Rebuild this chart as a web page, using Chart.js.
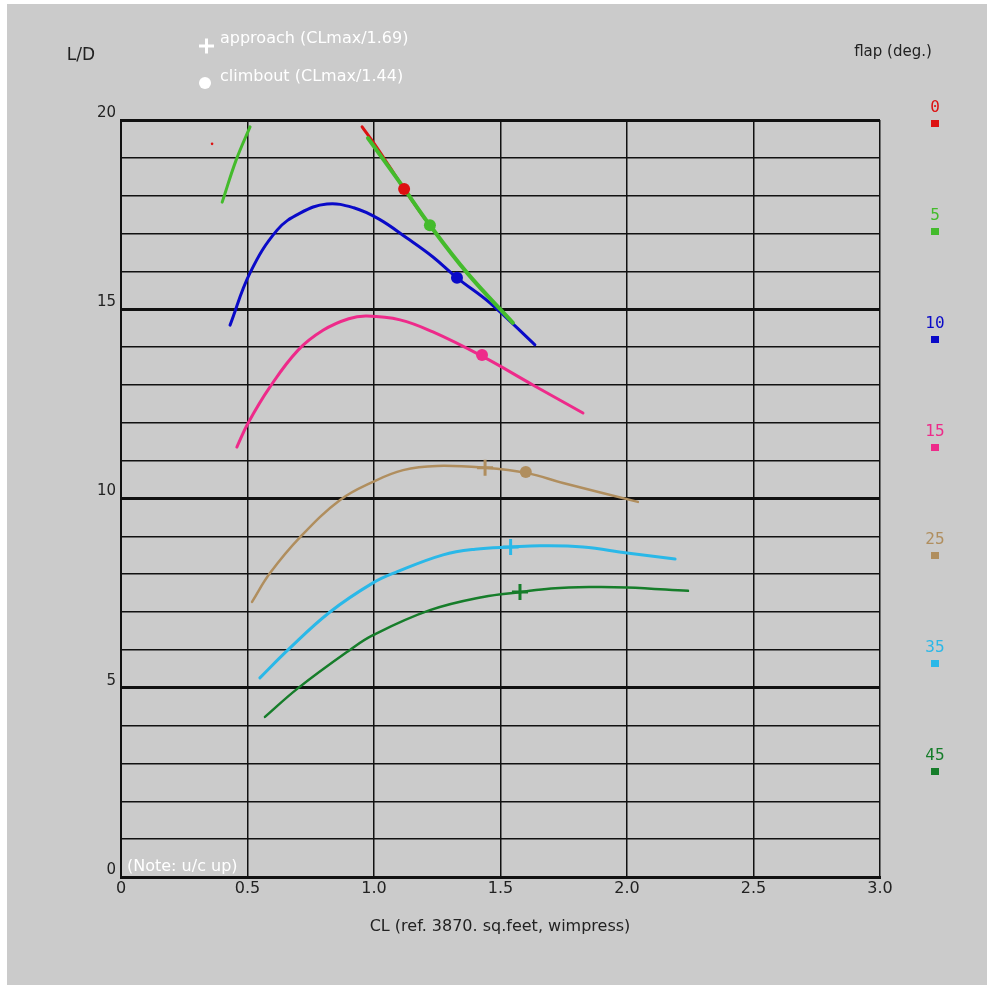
<!DOCTYPE html>
<html>
<head>
<meta charset="utf-8">
<script src="https://cdn.jsdelivr.net/npm/chart.js@4/dist/chart.umd.min.js"></script>
<style>
  html, body { margin: 0; padding: 0; background: #ffffff; }
  #wrap { position: absolute; left: 0; top: 0; width: 987px; height: 985px; }
</style>
</head>
<body>
<div id="wrap"><canvas id="chart" width="987" height="985"></canvas></div>
<script>
// Curve data (CL vs L/D)
const flap0CL = [0.953, 1.0, 1.06, 1.119, 1.2];
const flap0LD = [19.82, 19.38, 18.78, 18.18, 17.4];
const flap0DotCL = [0.36];
const flap0DotLD = [19.37];

const flap5aCL = [0.40, 0.455, 0.51];
const flap5aLD = [17.83, 18.94, 19.82];
const flap5bCL = [0.976, 1.1, 1.221, 1.368, 1.549];
const flap5bLD = [19.52, 18.37, 17.22, 15.96, 14.64];

const flap10CL = [0.431, 0.51, 0.617, 0.708, 0.814, 0.92, 1.02, 1.13, 1.233, 1.328, 1.458, 1.636];
const flap10LD = [14.58, 15.96, 17.09, 17.54, 17.78, 17.68, 17.38, 16.88, 16.38, 15.83, 15.17, 14.06];

const flap15CL = [0.458, 0.502, 0.589, 0.70, 0.80, 0.90, 0.972, 1.103, 1.233, 1.427, 1.628, 1.826];
const flap15LD = [11.36, 11.99, 12.95, 13.92, 14.45, 14.75, 14.82, 14.72, 14.4, 13.76, 13.0, 12.26];

const flap25CL = [0.518, 0.589, 0.708, 0.866, 0.996, 1.115, 1.249, 1.439, 1.605, 1.747, 2.043];
const flap25LD = [7.27, 8.03, 8.98, 9.96, 10.44, 10.75, 10.86, 10.81, 10.67, 10.41, 9.91];

const flap35CL = [0.549, 0.66, 0.826, 0.996, 1.09, 1.273, 1.40, 1.545, 1.656, 1.826, 2.0, 2.19];
const flap35LD = [5.26, 6.0, 7.0, 7.77, 8.06, 8.51, 8.66, 8.72, 8.75, 8.72, 8.56, 8.40];

const flap45CL = [0.569, 0.70, 0.905, 0.996, 1.221, 1.431, 1.581, 1.70, 1.85, 2.0, 2.241];
const flap45LD = [4.23, 4.99, 6.0, 6.39, 7.05, 7.40, 7.53, 7.62, 7.66, 7.65, 7.56];

// approach (+) and climbout (o) points
const approachFlaps = ['25', '35', '45'];
const approachCL = [1.439, 1.54, 1.577];
const approachLD = [10.81, 8.72, 7.53];
const climbFlaps = ['0', '5', '10', '15', '25'];
const climbCL = [1.119, 1.221, 1.328, 1.427, 1.60];
const climbLD = [18.18, 17.22, 15.83, 13.79, 10.70];

const flapLabels = ['0', '5', '10', '15', '25', '35', '45'];
const flapColors = {
    '0': '#dd1111', '5': '#44bb2c', '10': '#0a0ac8', '15': '#ee2a8a',
    '25': '#b08e5e', '35': '#2ab8e8', '45': '#167d2a'
};

const yTicks = [0, 5, 10, 15, 20];

function pts(xs, ys) {
    return xs.map((x, i) => ({ x: x, y: ys[i] }));
}

function curve(xs, ys, flap, width, order) {
    return {
        data: pts(xs, ys),
        showLine: true,
        borderColor: flapColors[flap],
        borderWidth: width,
        pointRadius: 0,
        tension: 0.4,
        borderCapStyle: 'round',
        fill: false,
        order: order
    };
}

const datasets = [];
// approach crosses
approachFlaps.forEach((f, i) => {
    datasets.push({
        data: [{ x: approachCL[i], y: approachLD[i] }],
        pointStyle: 'cross', pointRadius: 8, pointBorderWidth: 3,
        borderColor: flapColors[f], backgroundColor: flapColors[f], order: 0
    });
});
// climbout dots
climbFlaps.forEach((f, i) => {
    datasets.push({
        data: [{ x: climbCL[i], y: climbLD[i] }],
        pointStyle: 'circle', pointRadius: 6, pointBorderWidth: 0,
        borderColor: flapColors[f], backgroundColor: flapColors[f], order: 0
    });
});
datasets.push(curve(flap5bCL, flap5bLD, '5', 4, 1));
datasets.push(curve(flap5aCL, flap5aLD, '5', 3, 1));
datasets.push(curve(flap0CL, flap0LD, '0', 3, 2));
datasets.push({
    data: pts(flap0DotCL, flap0DotLD),
    pointRadius: 1.3, pointBorderWidth: 0,
    backgroundColor: flapColors['0'], borderColor: flapColors['0'], order: 2
});
datasets.push(curve(flap10CL, flap10LD, '10', 3, 3));
datasets.push(curve(flap15CL, flap15LD, '15', 3, 3));
datasets.push(curve(flap25CL, flap25LD, '25', 2.5, 3));
datasets.push(curve(flap35CL, flap35LD, '35', 3, 3));
datasets.push(curve(flap45CL, flap45LD, '45', 2.5, 3));

const textFont = '"DejaVu Sans", "Lucida Grande", sans-serif';

// Background, titles, legends drawn around the plot
const decorations = {
    id: 'decorations',
    beforeDraw(chart) {
        const ctx = chart.ctx;
        ctx.save();
        ctx.fillStyle = '#ffffff';
        ctx.fillRect(0, 0, chart.width, chart.height);
        ctx.fillStyle = '#cbcbcb';
        ctx.fillRect(7, 4, chart.width - 7, chart.height - 4);
        ctx.restore();
    },
    afterDraw(chart) {
        const ctx = chart.ctx;
        const area = chart.chartArea;
        ctx.save();
        ctx.textBaseline = 'middle';

        ctx.fillStyle = '#222222';
        ctx.textAlign = 'center';
        ctx.font = '17px ' + textFont;
        ctx.fillText('L/D', 81, 56);
        ctx.font = '15px ' + textFont;
        ctx.fillText('flap (deg.)', 893, 52);

        ctx.font = '16px ' + textFont;
        ctx.fillText('CL (ref. 3870. sq.feet, wimpress)', 500, 927);

        // approach / climbout legend
        ctx.fillStyle = '#ffffff';
        ctx.strokeStyle = '#ffffff';
        ctx.lineWidth = 3;
        ctx.beginPath();
        ctx.moveTo(199, 46); ctx.lineTo(214, 46);
        ctx.moveTo(206.5, 38.5); ctx.lineTo(206.5, 53.5);
        ctx.stroke();
        ctx.beginPath();
        ctx.arc(205, 83, 6, 0, Math.PI * 2);
        ctx.fill();
        ctx.font = '16px ' + textFont;
        ctx.textAlign = 'left';
        ctx.fillText('approach (CLmax/1.69)', 220, 39);
        ctx.fillText('climbout (CLmax/1.44)', 220, 77);

        ctx.font = '16px ' + textFont;
        ctx.fillText('(Note: u/c up)', area.left + 6, area.bottom - 10);

        // flap colour key
        ctx.textAlign = 'center';
        ctx.font = '16px "DejaVu Sans Mono", monospace';
        flapLabels.forEach((f, i) => {
            const y = 108 + i * 108;
            ctx.fillStyle = flapColors[f];
            ctx.fillText(f, 935, y);
            ctx.fillRect(931, y + 12, 8, 7);
        });
        ctx.restore();
    }
};

new Chart(document.getElementById('chart'), {
    type: 'scatter',
    data: { datasets: datasets },
    options: {
        responsive: false,
        animation: false,
        layout: { padding: { left: 0, top: 120, right: 107, bottom: 78 } },
        plugins: { legend: { display: false }, tooltip: { enabled: false } },
        scales: {
            x: {
                type: 'linear', min: 0, max: 3,
                afterFit(scale) { scale.height = 30; },
                border: { display: true, color: '#111111', width: 3 },
                grid: {
                    color: '#111111', drawTicks: false, tickLength: 0,
                    lineWidth: (c) => (c.tick && c.tick.value === 0 ? 2 : 1.5)
                },
                ticks: {
                    stepSize: 0.5, padding: 2, color: '#222222',
                    font: { family: textFont, size: 16 },
                    callback: (v) => (v === 0 ? '0' : Number(v).toFixed(1))
                }
            },
            y: {
                type: 'linear', min: 0, max: 20,
                afterFit(scale) { scale.width = 121; },
                border: { display: true, color: '#111111', width: 2 },
                grid: {
                    color: '#111111', drawTicks: false, tickLength: 0,
                    lineWidth: (c) => (c.tick && yTicks.includes(c.tick.value) ? 3 : 1.5)
                },
                ticks: {
                    stepSize: 1, padding: 5, labelOffset: -7, color: '#222222',
                    font: { family: textFont, size: 15 },
                    callback: (v) => (yTicks.includes(v) ? String(v) : '')
                }
            }
        }
    },
    plugins: [decorations]
});
</script>
</body>
</html>
